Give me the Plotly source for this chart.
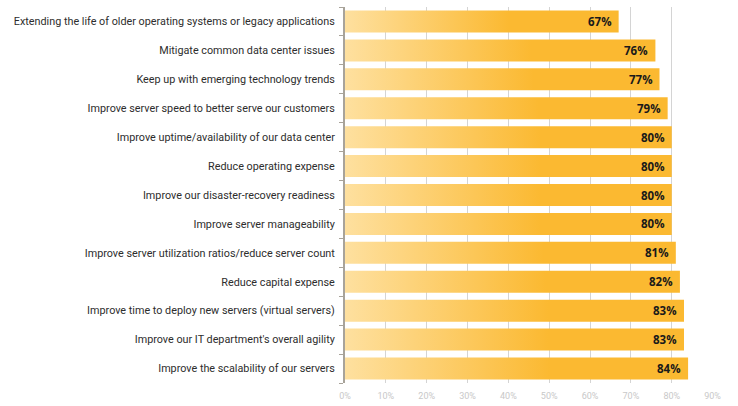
import plotly.graph_objects as go

categories = [
    "Extending the life of older operating systems or legacy applications",
    "Mitigate common data center issues",
    "Keep up with emerging technology trends",
    "Improve server speed to better serve our customers",
    "Improve uptime/availability of our data center",
    "Reduce operating expense",
    "Improve our disaster-recovery readiness",
    "Improve server manageability",
    "Improve server utilization ratios/reduce server count",
    "Reduce capital expense",
    "Improve time to deploy new servers (virtual servers)",
    "Improve our IT department's overall agility",
    "Improve the scalability of our servers",
]
values = [0.67, 0.76, 0.77, 0.79, 0.80, 0.80, 0.80, 0.80, 0.81, 0.82, 0.83, 0.83, 0.84]
x_ticks = [0, 0.1, 0.2, 0.3, 0.4, 0.5, 0.6, 0.7, 0.8, 0.9]

HALF = 0.38
grad = [[0, "#FEE09F"], [0.6, "#FBB931"], [1, "#FBB931"]]

fig = go.Figure()
for i, v in enumerate(values):
    fig.add_trace(go.Scatter(
        x=[0, v, v, 0, 0],
        y=[i - HALF, i - HALF, i + HALF, i + HALF, i - HALF],
        mode="lines", fill="toself",
        line=dict(width=0, color="rgba(0,0,0,0)"),
        fillgradient=dict(type="horizontal", colorscale=grad),
        hoverinfo="skip", showlegend=False,
    ))

for i, v in enumerate(values):
    fig.add_annotation(
        x=v, y=i, text=f"<b>{round(v*100)}%</b>",
        xanchor="right", yanchor="middle", xshift=-5, showarrow=False,
        font=dict(family="Open Sans", size=11.5, color="#1a1a1a"),
    )

fig.update_layout(
    width=738, height=406,
    margin=dict(l=345, r=25, t=7, b=23),
    plot_bgcolor="white", paper_bgcolor="white",
    xaxis=dict(
        range=[0, 0.901], tickvals=x_ticks, tickformat=".0%",
        showgrid=True, gridcolor="#d4d4d4", gridwidth=1,
        zeroline=False, showline=False, ticks="",
        ticklabelstandoff=6, automargin=False,
        tickfont=dict(family="Roboto", size=9, color="#c8c8c8"),
        fixedrange=True,
    ),
    yaxis=dict(
        range=[len(values) - 0.5, -0.5],
        tickvals=list(range(len(values))), ticktext=categories,
        ticks="", showgrid=False, zeroline=False,
        showline=True, linecolor="#a8a39a", linewidth=2,
        ticklabelstandoff=6, automargin=False,
        tickfont=dict(family="Roboto", size=10.8, color="#2d2d2d"),
        minor=dict(tickvals=[i - 0.5 for i in range(len(values) + 1)],
                   ticks="outside", ticklen=4, tickcolor="#a8a39a", tickwidth=1),
        fixedrange=True,
    ),
)

fig.write_html("out.html", config={"displayModeBar": False},
               post_script="document.body.style.margin='0';")
